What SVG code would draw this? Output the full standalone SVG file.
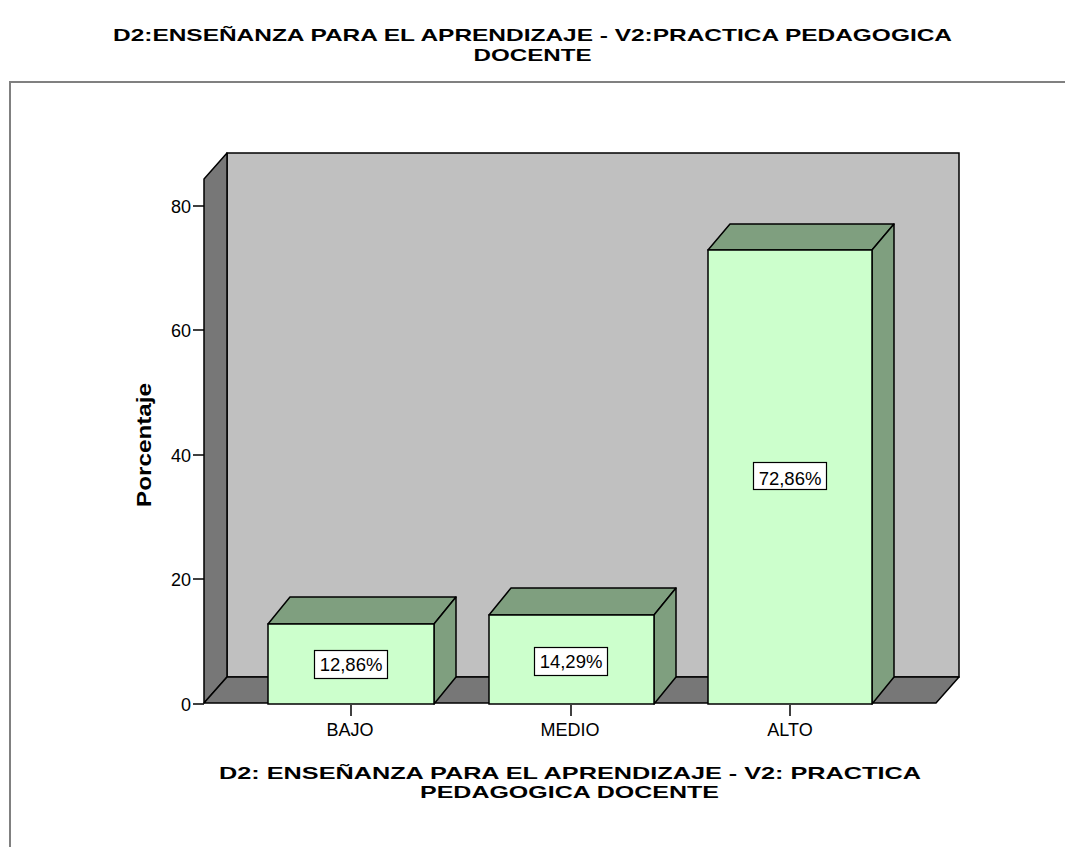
<svg xmlns="http://www.w3.org/2000/svg" width="1065" height="847" viewBox="0 0 1065 847">
<style>
.t{font-family:"Liberation Sans",Arial,sans-serif;fill:#000}
.title{font-size:17px;font-weight:bold;text-anchor:middle}
.xtitle{font-size:16.5px;font-weight:bold;text-anchor:middle}
.ax{font-size:18px}
.ytick{text-anchor:end}
.xl{text-anchor:middle}
.wall{fill:#c0c0c0;stroke:#000;stroke-width:1.5}
.dark{fill:#777777;stroke:#000;stroke-width:1.5;stroke-linejoin:round}
.front{fill:#ccffcc;stroke:#000;stroke-width:1.5}
.top{fill:#7f9f7f;stroke:#000;stroke-width:1.5;stroke-linejoin:round}
.tick{stroke:#000;stroke-width:1.5}
.lbox{fill:#fff;stroke:#000;stroke-width:1.2}
.val{font-size:18.5px;text-anchor:middle}
</style>
<rect x="0" y="0" width="1065" height="847" fill="#fff"/>
<g id="title">
<text class="t title" x="532.5" y="41" textLength="839" lengthAdjust="spacingAndGlyphs">D2:ENSEÑANZA PARA EL APRENDIZAJE - V2:PRACTICA PEDAGOGICA</text>
<text class="t title" x="532.5" y="60.5" textLength="118" lengthAdjust="spacingAndGlyphs">DOCENTE</text>
</g>
<g id="frame">
<polyline points="10,847 10,82 1065,82" fill="none" stroke="#808080" stroke-width="2"/>
</g>
<g id="walls">
<rect class="wall" x="227" y="153" width="732" height="524"/>
<polygon class="dark" points="204,179 227,153 227,677 204,703"/>
<polygon class="dark" points="204,703 227,677 959,677 936,703"/>
</g>
<g id="yaxis">
<line class="tick" x1="193" y1="704" x2="204" y2="704"/>
<line class="tick" x1="193" y1="579" x2="204" y2="579"/>
<line class="tick" x1="193" y1="455" x2="204" y2="455"/>
<line class="tick" x1="193" y1="330" x2="204" y2="330"/>
<line class="tick" x1="193" y1="206" x2="204" y2="206"/>
<text class="t ax ytick" x="191" y="710.5">0</text>
<text class="t ax ytick" x="191" y="585.5">20</text>
<text class="t ax ytick" x="191" y="461.5">40</text>
<text class="t ax ytick" x="191" y="336.5">60</text>
<text class="t ax ytick" x="191" y="212.5">80</text>
<text class="t" x="0" y="0" font-size="21" font-weight="bold" text-anchor="middle" textLength="124" lengthAdjust="spacingAndGlyphs" transform="translate(151,445) rotate(-90)">Porcentaje</text>
</g>
<g id="bar-bajo">
<polygon class="top" points="268,624 290,597 456,597 434,624"/>
<polygon class="top" points="434,624 456,597 456,677 434,704"/>
<rect class="front" x="268" y="624" width="166" height="80"/>
<rect class="lbox" x="314.5" y="650.5" width="73" height="28"/>
<text class="t val" x="351" y="671">12,86%</text>
</g>
<g id="bar-medio">
<polygon class="top" points="489,615 511,588 676,588 654,615"/>
<polygon class="top" points="654,615 676,588 676,677 654,704"/>
<rect class="front" x="489" y="615" width="165" height="89"/>
<rect class="lbox" x="534.5" y="647.5" width="73" height="28"/>
<text class="t val" x="571" y="668">14,29%</text>
</g>
<g id="bar-alto">
<polygon class="top" points="708,250 730,224 894,224 872,250"/>
<polygon class="top" points="872,250 894,224 894,677 872,704"/>
<rect class="front" x="708" y="250" width="164" height="454"/>
<rect class="lbox" x="753.5" y="462.5" width="73" height="27"/>
<text class="t val" x="790" y="485">72,86%</text>
</g>
<g id="xaxis">
<line class="tick" x1="351" y1="705" x2="351" y2="716"/>
<line class="tick" x1="571" y1="705" x2="571" y2="716"/>
<line class="tick" x1="790" y1="705" x2="790" y2="716"/>
<text class="t ax xl" x="350" y="735.5">BAJO</text>
<text class="t ax xl" x="570" y="735.5">MEDIO</text>
<text class="t ax xl" x="790" y="735.5">ALTO</text>
<text class="t xtitle" x="570" y="779" textLength="702" lengthAdjust="spacingAndGlyphs">D2: ENSEÑANZA PARA EL APRENDIZAJE - V2: PRACTICA</text>
<text class="t xtitle" x="569.5" y="798" textLength="299" lengthAdjust="spacingAndGlyphs">PEDAGOGICA DOCENTE</text>
</g>
</svg>
